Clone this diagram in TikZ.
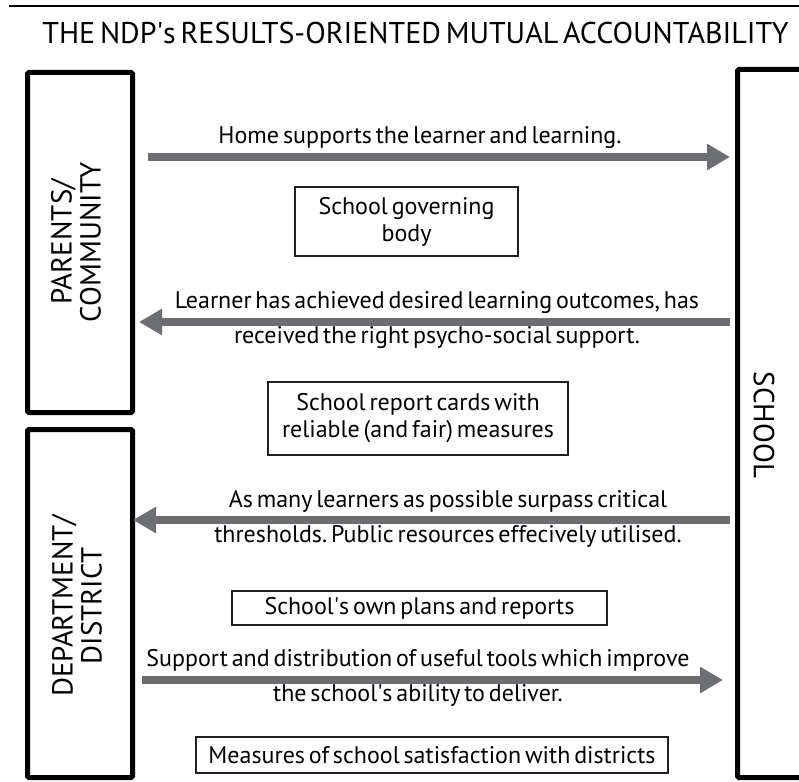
\documentclass[tikz,border=0pt]{standalone}
\usepackage{fontspec}
\setmainfont[WordSpace=0.6]{PT Sans}
\usetikzlibrary{arrows.meta,calc}
\definecolor{arrowgray}{RGB}{109,110,113}
\definecolor{boxline}{RGB}{35,31,32}
\newcommand\titlefont{\fontsize{30}{30}\selectfont}
\newcommand\sidefont{\fontsize{29}{29}\selectfont}
\newcommand\bodyfont{\fontsize{24}{27}\selectfont}
\newcommand\lblfont{\fontsize{24}{35}\selectfont}
\newcommand\apo{\textquotesingle}
\frenchspacing
\begin{document}
\begin{tikzpicture}[x=1pt,y=-1pt,
  sidebox/.style={draw=black, line width=5pt, rounded corners=1.5pt, inner sep=0pt},
  sidetext/.style={font=\sidefont, align=center, inner sep=0pt},
  infobox/.style={draw=boxline, line width=1.2pt, inner sep=0pt, font=\bodyfont, align=center},
  lbl/.style={font=\lblfont, align=center, inner sep=0pt},
  bigarrow/.style={draw=arrowgray, line width=8pt, -{Triangle[length=23pt,width=25pt]}}]
\useasboundingbox (0,0) rectangle (799,781);
\clip (0,0) rectangle (799,781);
% top rule
\coordinate (ruleL) at (9,6);
\coordinate (ruleR) at (799,6);
\draw[line width=1.5pt] (ruleL) -- (ruleR);
% title
\node[font=\titlefont, anchor=base, inner sep=0pt] (title) at (415.5,44) {THE NDP\apo s RESULTS-ORIENTED MUTUAL ACCOUNTABILITY};
% side boxes
\node[sidebox, minimum width=105, minimum height=340] (pc) at (80,242.5) {};
\node[sidetext, rotate=90] (pctext) at (76,242) {PARENTS/\\COMMUNITY};
\node[sidebox, minimum width=105, minimum height=348] (dd) at (80,603.5) {};
\node[sidetext, rotate=90] (ddtext) at (77,606) {DEPARTMENT/\\DISTRICT};
\node[sidebox, minimum width=120, minimum height=708] (school) at (797.5,423.5) {};
\node[sidetext, rotate=-90] (schooltext) at (764,425) {SCHOOL};
% info boxes
\node[infobox, minimum width=223, minimum height=69] (sgb) at (406.5,221.5) {School governing\\body};
\node[infobox, minimum width=300, minimum height=73] (src) at (418,418.5) {School report cards with\\reliable (and fair) measures};
\node[infobox, minimum width=375, minimum height=34] (plans) at (419.5,608) {School\apo s own plans and reports};
\node[infobox, minimum width=472, minimum height=36] (meas) at (432,755) {Measures of school satisfaction with districts};
% arrows
\draw[bigarrow] ($(pc.east|-0,157)+(13,0)$) -- ($(school.west|-0,157)+(-5,0)$);
\draw[bigarrow] ($(school.west|-0,322)+(-5,0)$) -- ($(pc.east|-0,322)+(4,0)$);
\draw[bigarrow] ($(school.west|-0,520)+(-5,0)$) -- ($(dd.east|-0,520)+(-2,0)$);
\draw[bigarrow] ($(dd.east|-0,680)+(7,0)$) -- ($(school.west|-0,680)+(-12,0)$);
% arrow labels
\node[lbl, anchor=base] (l1) at (420,143) {Home supports the learner and learning.};
\node[lbl] (l2) at (437,320.5) {Learner has achieved desired learning outcomes, has\\received the right psycho-social support.};
\node[lbl] (l3) at (448,518.5) {As many learners as possible surpass critical\\thresholds. Public resources effecively utilised.};
\node[lbl] (l4) at (418,677.5) {Support and distribution of useful tools which improve\\the school\apo s ability to deliver.};
\end{tikzpicture}
\end{document}
